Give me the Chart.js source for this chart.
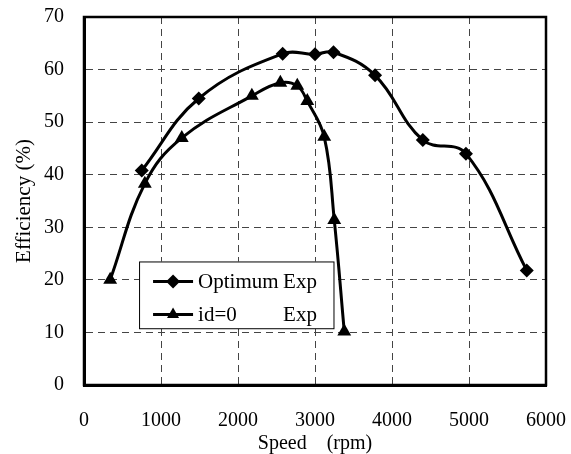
<!DOCTYPE html>
<html>
<head>
<meta charset="utf-8">
<script src="https://cdn.jsdelivr.net/npm/chart.js@4"></script>
<style>
  html, body { margin: 0; padding: 0; background: #fff; }
  #chart { display: block; }
</style>
</head>
<body>
<canvas id="chart" width="571" height="454"></canvas>
<script>
// ---- data ----
const optSpeed = [750, 1490, 2580, 3000, 3240, 3780, 4400, 4960, 5750];
const optEff   = [40.8, 54.5, 63.0, 62.9, 63.3, 58.9, 46.6, 44.0, 21.8];

const id0Speed = [340, 790, 1270, 2180, 2550, 2770, 2900, 3120, 3250, 3380];
const id0Eff   = [20.0, 38.3, 47.0, 55.0, 57.5, 56.9, 54.0, 47.2, 31.4, 10.2];

const legendRows = [
  { name: 'Optimum', tag: 'Exp', style: 'rectRot' },
  { name: 'id=0', tag: 'Exp', style: 'triangle' }
];

const FONT = "'Liberation Serif', 'Times New Roman', serif";

const toPoints = (xs, ys) => xs.map((x, i) => ({ x: x, y: ys[i] }));

// frame round the plot area (top/right edges too)
const framePlugin = {
  id: 'frame',
  afterDatasetsDraw(chart) {
    const { ctx, chartArea: a } = chart;
    ctx.save();
    ctx.strokeStyle = '#000';
    ctx.lineWidth = 2.5;
    ctx.strokeRect(a.left, a.top, a.right - a.left, a.bottom - a.top);
    ctx.restore();
  }
};

// boxed legend inside the plot
const legendPlugin = {
  id: 'boxLegend',
  afterDraw(chart) {
    const ctx = chart.ctx;
    const x = chart.scales.x, y = chart.scales.y;
    const left = x.getPixelForValue(715), right = x.getPixelForValue(3240);
    const top = y.getPixelForValue(23.5), bottom = y.getPixelForValue(10.8);
    ctx.save();
    ctx.fillStyle = '#fff';
    ctx.fillRect(left, top, right - left, bottom - top);
    ctx.strokeStyle = '#000';
    ctx.lineWidth = 1;
    ctx.strokeRect(left + 0.5, top + 0.5, right - left, bottom - top);
    ctx.font = '21px ' + FONT;
    ctx.textBaseline = 'middle';
    legendRows.forEach((row, i) => {
      const cy = top + 20 + i * 33;
      ctx.strokeStyle = '#000';
      ctx.lineWidth = 3;
      ctx.beginPath();
      ctx.moveTo(left + 14, cy);
      ctx.lineTo(left + 54, cy);
      ctx.stroke();
      ctx.fillStyle = '#000';
      Chart.helpers.drawPoint(ctx, { pointStyle: row.style, radius: 7, rotation: 0, borderWidth: 0 }, left + 34, cy);
      ctx.fillStyle = '#000';
      ctx.fillText(row.name, left + 59, cy + 1);
      ctx.fillText(row.tag, left + 144, cy + 1);
    });
    ctx.restore();
  }
};

new Chart(document.getElementById('chart'), {
  type: 'line',
  data: {
    datasets: [
      {
        label: 'Optimum Exp',
        data: toPoints(optSpeed, optEff),
        borderColor: '#000',
        backgroundColor: '#000',
        borderWidth: 3,
        pointStyle: 'rectRot',
        pointRadius: 7,
        pointBorderWidth: 0,
        tension: 0.4,
        fill: false
      },
      {
        label: 'id=0 Exp',
        data: toPoints(id0Speed, id0Eff),
        borderColor: '#000',
        backgroundColor: '#000',
        borderWidth: 3,
        pointStyle: 'triangle',
        pointRadius: 8,
        pointBorderWidth: 0,
        tension: 0.4,
        fill: false
      }
    ]
  },
  options: {
    responsive: false,
    animation: false,
    layout: { padding: { top: 17, right: 25, left: 0, bottom: 0 } },
    plugins: {
      legend: { display: false },
      tooltip: { enabled: false }
    },
    scales: {
      x: {
        type: 'linear',
        min: 0,
        max: 6000,
        afterFit: s => { s.height = 69; },
        ticks: {
          stepSize: 1000,
          color: '#000',
          font: { family: FONT, size: 20 },
          padding: 0,
          maxRotation: 0,
          callback: v => String(v)
        },
        grid: { color: '#444', lineWidth: 1, drawTicks: true, tickLength: 24, tickColor: 'rgba(0,0,0,0)' },
        border: { display: true, color: '#000', width: 3, dash: [7, 5] },
        title: {
          display: true,
          text: 'Speed    (rpm)',
          color: '#000',
          font: { family: FONT, size: 20, lineHeight: 1 },
          padding: { top: 0, bottom: 0 }
        }
      },
      y: {
        min: 0,
        max: 70,
        afterFit: s => { s.width = 84; },
        ticks: {
          stepSize: 10,
          color: '#000',
          font: { family: FONT, size: 20 },
          padding: 0
        },
        grid: { color: '#444', lineWidth: 1, drawTicks: true, tickLength: 20, tickColor: 'rgba(0,0,0,0)' },
        border: { display: true, color: '#000', width: 3, dash: [7, 5] },
        title: {
          display: true,
          text: 'Efficiency (%)',
          color: '#000',
          font: { family: FONT, size: 21 },
          padding: { top: 12, bottom: 0 }
        }
      }
    }
  },
  plugins: [framePlugin, legendPlugin]
});
</script>
</body>
</html>
